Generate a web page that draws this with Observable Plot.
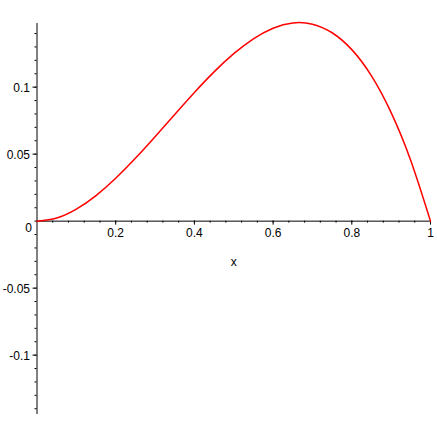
<!DOCTYPE html>
<html>
<head>
<meta charset="utf-8">
<script src="https://cdn.jsdelivr.net/npm/d3@7"></script>
<script src="https://cdn.jsdelivr.net/npm/@observablehq/plot@0.6"></script>
<style>
  html, body { margin: 0; padding: 0; background: #fff; }
  svg { display: block; }
</style>
</head>
<body>
<div id="chart"></div>
<script>
// Data
const xs = [0, 0.05, 0.1, 0.15, 0.2, 0.25, 0.3, 0.35, 0.4, 0.45, 0.5, 0.55, 0.6, 0.65, 0.7, 0.75, 0.8, 0.85, 0.9, 0.95, 1];
const ys = [0, 0.0024, 0.009, 0.0191, 0.032, 0.0469, 0.063, 0.0796, 0.096, 0.1114, 0.125, 0.1361, 0.144, 0.1479, 0.147, 0.1406, 0.128, 0.1084, 0.081, 0.0451, 0];

const xMajorTicks = [0.2, 0.4, 0.6, 0.8, 1];
const xMajorLabels = ["0.2", "0.4", "0.6", "0.8", "1"];
const xMinorTicks = d3.range(1, 25).map(i => +(i * 0.04).toFixed(2));
const yMajorTicks = [0.1, 0.05, -0.05, -0.1];
const yMajorLabels = ["0.1", "0.05", "-0.05", "-0.1"];
const yMinorTicks = d3.range(-14, 15).map(i => +(i * 0.01).toFixed(2));
const xTitle = "x";

const xDomain = [0, 1];
const yDomain = [-0.1443, 0.1475];

const W = 437, H = 437;
const mL = 36.5, mR = 7, mT = 23, mB = 23;
const pxX = (W - mL - mR) / (xDomain[1] - xDomain[0]);
const pxY = (H - mT - mB) / (yDomain[1] - yDomain[0]);

const curve = xs.map((x, i) => ({x, y: ys[i]}));
const font = "'Liberation Sans', Arial, Helvetica, sans-serif";

const chart = Plot.plot({
  width: W,
  height: H,
  marginLeft: mL,
  marginRight: mR,
  marginTop: mT,
  marginBottom: mB,
  style: {background: "#fff", fontFamily: font, fontSize: "12px"},
  x: {domain: xDomain, axis: null},
  y: {domain: yDomain, axis: null},
  marks: [
    // axes lines
    Plot.ruleX([0], {y1: yDomain[0], y2: yDomain[1], stroke: "#000", strokeWidth: 1}),
    Plot.ruleY([0], {x1: 0, x2: 1, stroke: "#000", strokeWidth: 1}),
    // y ticks
    Plot.ruleY(yMinorTicks, {y: d => d, x1: -2 / pxX, x2: 0, stroke: "#000"}),
    Plot.ruleY(yMajorTicks, {y: d => d, x1: -4 / pxX, x2: 0, stroke: "#000"}),
    // x ticks
    Plot.ruleX(xMinorTicks, {x: d => d, y1: 0, y2: -2 / pxY, stroke: "#000"}),
    Plot.ruleX(xMajorTicks, {x: d => d, y1: 0, y2: -4 / pxY, stroke: "#000"}),
    // y labels
    Plot.text(yMajorTicks, {x: 0, y: d => d, text: (d, i) => yMajorLabels[i], textAnchor: "end", dx: -7, dy: 1.2, fill: "#000"}),
    Plot.text([0], {x: 0, y: 0, text: () => "0", textAnchor: "middle", dx: -8.5, dy: 7.5, fill: "#000"}),
    // x labels
    Plot.text(xMajorTicks, {x: d => d, y: 0, text: (d, i) => xMajorLabels[i], textAnchor: "middle", dy: 12.2, fill: "#000"}),
    Plot.text([xTitle], {x: 0.5, y: 0, text: d => d, textAnchor: "middle", dy: 41.5, fill: "#000"}),
    // curve
    Plot.line(curve, {x: "x", y: "y", stroke: "#ff0000", strokeWidth: 1.5, curve: "natural"})
  ]
});
document.getElementById("chart").appendChild(chart);
</script>
</body>
</html>
